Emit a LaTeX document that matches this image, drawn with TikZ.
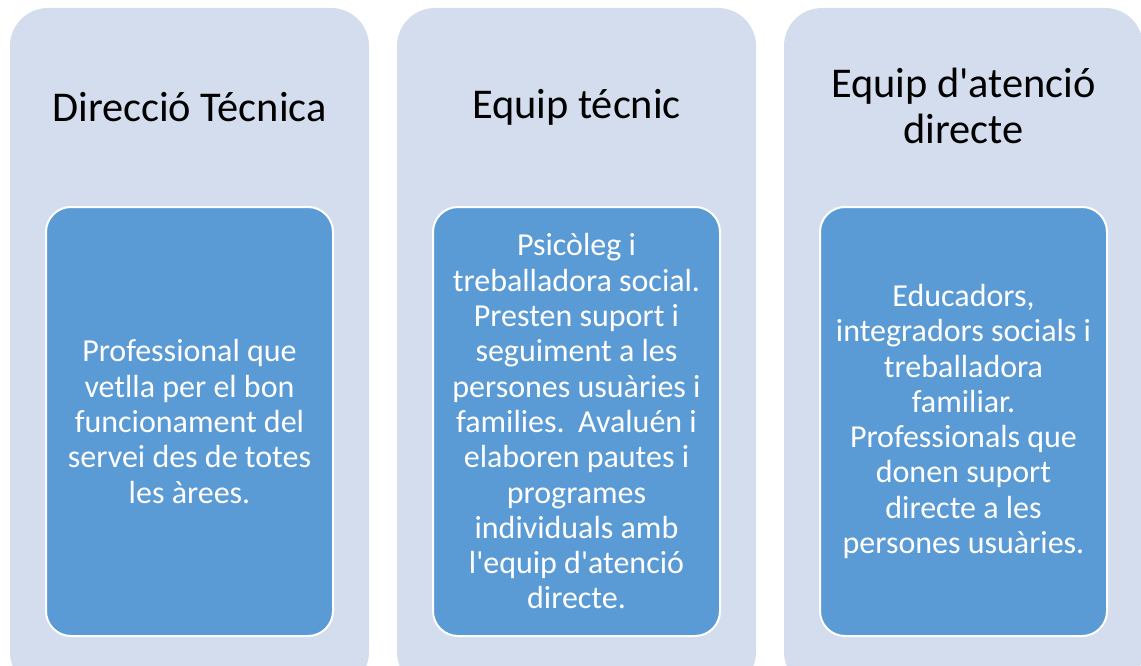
\documentclass[tikz,border=0pt]{standalone}
\usepackage{fontspec}
\setmainfont{Carlito}
\usepackage{tikz}
\usetikzlibrary{positioning}

\definecolor{panelfill}{HTML}{D3DDEE}
\definecolor{cardfill}{HTML}{5B9BD5}

\begin{document}
\begin{tikzpicture}[x=1pt,y=-1pt,
  outerbox/.style={fill=panelfill,rounded corners=38pt,minimum width=359pt,minimum height=682pt,inner sep=0pt},
  innerbox/.style={fill=cardfill,draw=white,line width=2pt,rounded corners=25pt,minimum width=287pt,minimum height=429pt,
    inner sep=0pt,align=center,text=white,font=\fontsize{32}{35.3}\selectfont},
  titletext/.style={align=center,font=\fontsize{42.4}{46}\selectfont}]
\useasboundingbox (0,0) rectangle (1141,666);
\clip (0,0) rectangle (1141,666);

\node[outerbox] (p1) at (189.5,349) {};
\node[outerbox] (p2) at (576.5,349) {};
\node[outerbox] (p3) at (963.5,349) {};

\node[titletext] (t1) at (189.5,107) {Direcció Técnica};
\node[titletext] (t2) at (576.5,107) {Equip técnic};
\node[titletext] (t3) at (963.5,106) {Equip d\textquotesingle atenció\\directe};

\node[innerbox] (c1) at (189.5,421.5) {Professional que\\vetlla per el bon\\funcionament del\\servei des de totes\\les àrees.};
\node[innerbox] (c2) at (576.5,421.5) {Psicòleg i\\treballadora social.\\Presten suport i\\seguiment a les\\persones usuàries i\\families.\hspace{0.42em}Avaluén i\\elaboren pautes i\\programes\\individuals amb\\l\textquotesingle equip d\textquotesingle atenció\\directe.};
\node[innerbox] (c3) at (963.5,421.5) {Educadors,\\integradors socials i\\treballadora\\familiar.\\Professionals que\\donen suport\\directe a les\\persones usuàries.};
\end{tikzpicture}
\end{document}
